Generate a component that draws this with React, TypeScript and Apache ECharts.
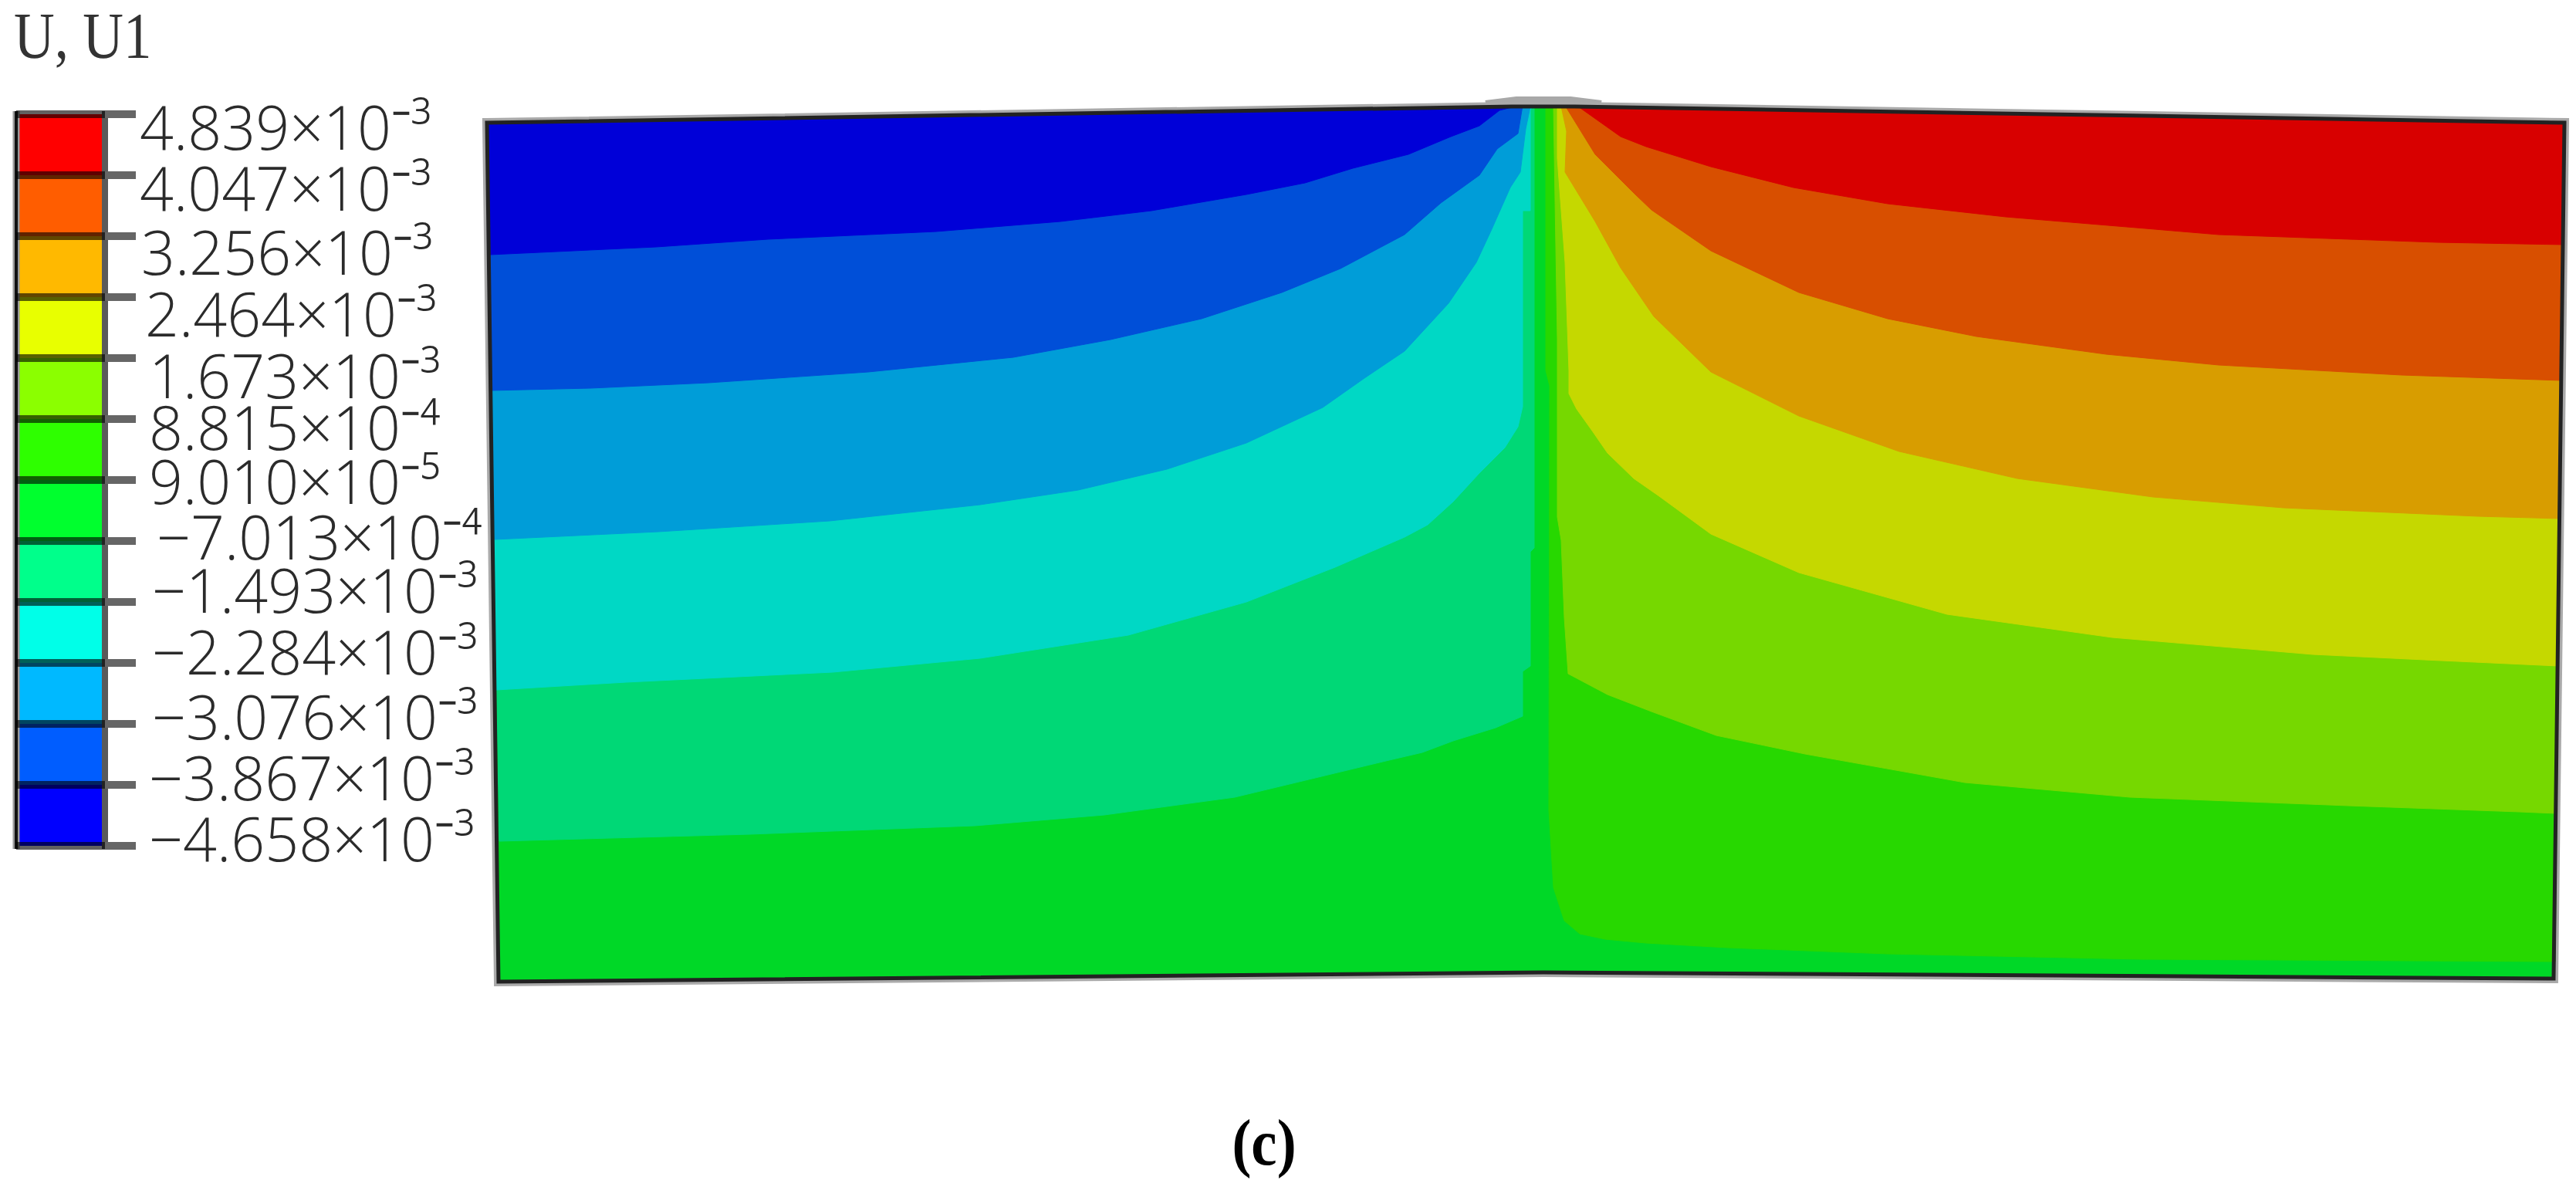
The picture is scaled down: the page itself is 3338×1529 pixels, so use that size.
import React, { useEffect, useRef } from "react";
import * as echarts from "echarts";

const legendLabels = ["4.839×10⁻³","4.047×10⁻³","3.256×10⁻³","2.464×10⁻³","1.673×10⁻³","8.815×10⁻⁴","9.010×10⁻⁵","−7.013×10⁻⁴","−1.493×10⁻³","−2.284×10⁻³","−3.076×10⁻³","−3.867×10⁻³","−4.658×10⁻³"];
const legendColors = ["#FF0000","#FF5D00","#FFB900","#E8FF00","#8BFF00","#2EFF00","#00FF2E","#00FF8B","#00FFE8","#00B9FF","#005DFF","#0000FF"];

// Contour lines, in picture-scale model coordinates [x, y]
const lineB1 = [[635,330],[850,320],[995,310],[1213,300],[1374,287],[1492,273],[1615,252],[1691,237],[1753,218],[1825,200],[1880,177],[1917,163],[1943,143],[1963,138]];
const lineB2 = [[635,506],[765,503],[918,496],[1125,482],[1313,463],[1439,440],[1557,413],[1661,379],[1737,348],[1820,304],[1867,263],[1917,227],[1940,193],[1967,173],[1973,137]];
const lineB3 = [[641,699],[853,689],[1075,675],[1270,654],[1397,635],[1512,608],[1615,574],[1714,528],[1768,490],[1820,455],[1877,393],[1913,340],[1933,297],[1957,243],[1970,223],[1977,167],[1983,138]];
const lineB4 = [[643,894],[811,884],[1079,871],[1270,853],[1462,823],[1615,780],[1730,735],[1820,696],[1850,680],[1883,650],[1917,613],[1950,580],[1967,553],[1973,527],[1973,273],[1983,273],[1983,143],[1985,138]];
const lineB5 = [[647,1090],[972,1081],[1263,1070],[1431,1056],[1600,1033],[1800,985],[1843,975],[1883,960],[1938,943],[1973,928],[1973,870],[1983,863],[1983,715],[1988,710],[1988,138]];
const lineR6 = [[2003,138],[2003,480],[2008,500],[2007,1050],[2013,1150],[2027,1193],[2047,1210],[2080,1217],[2133,1222],[2239,1228],[2446,1236],[2775,1243],[3311,1246]];
const lineR5 = [[2013,138],[2018,440],[2018,670],[2023,700],[2027,800],[2032,873],[2083,900],[2140,922],[2224,953],[2339,977],[2546,1014],[2760,1033],[3043,1044],[3265,1052],[3312,1054]];
const lineR4 = [[2018,138],[2018,205],[2028,340],[2033,480],[2033,510],[2043,530],[2063,558],[2083,587],[2117,620],[2150,643],[2217,692],[2331,742],[2523,796],[2737,826],[2997,848],[3142,855],[3315,863]];
const lineR3 = [[2023,138],[2030,170],[2028,223],[2067,287],[2100,347],[2143,410],[2217,482],[2331,539],[2461,585],[2614,620],[2790,644],[2959,658],[3211,669],[3318,672]];
const lineR2 = [[2030,140],[2067,200],[2117,250],[2140,272],[2217,325],[2331,379],[2446,413],[2561,436],[2729,459],[2875,473],[3112,486],[3320,493]];
const lineR1 = [[2045,138],[2100,177],[2133,190],[2217,216],[2324,243],[2446,264],[2599,281],[2768,295],[2875,304],[3158,314],[3322,317]];

const outline = [[631,159],[1960,138],[2040,138],[3323,159],[3309,1268],[2000,1260],[646,1272]];
const peak = [[1925,134],[1965,129],[2035,129],[2075,134]];

const topLeft = [631,159];
const topRight = [3323,159];
const topMidL = [1960,138];
const topMidR = [2040,138];

const leftBands = [
  { color: "#00D876", line: lineB5 },
  { color: "#00D8C5", line: lineB4 },
  { color: "#009DD8", line: lineB3 },
  { color: "#004FD8", line: lineB2 },
  { color: "#0000D8", line: lineB1 },
];
const rightBands = [
  { color: "#27D800", line: lineR6 },
  { color: "#76D800", line: lineR5 },
  { color: "#C5D800", line: lineR4 },
  { color: "#D89D00", line: lineR3 },
  { color: "#D84F00", line: lineR2 },
  { color: "#D80000", line: lineR1 },
];

const regions: { color: string; pts: number[][] }[] = [
  { color: "#00D827", pts: outline },
  ...leftBands.map((b) => ({ color: b.color, pts: [topLeft, ...b.line, topMidL] })),
  ...rightBands.map((b) => ({ color: b.color, pts: [topMidR, ...b.line, topRight] })),
];

// layout of the legend, in the same coordinates
const BAR_L = 21, BAR_R = 136, BAR_T = 148, STEP = 79, TICK_R = 176;
const LABEL_X = [181,181,183,188,193,193,193,203,197,197,197,193,193];
const LABEL_Y = [163,242,325,405,485,552,622,694,763,843,927,1006,1085];

const FONT = "'Open Sans'";

export default function App() {
  const ref = useRef<HTMLDivElement>(null);
  useEffect(() => {
    document.body.style.margin = "0";
    const chart = echarts.init(ref.current!, undefined, { renderer: "svg" });
    const toPts = (api: any, pts: number[][]) => pts.map((p) => api.coord(p));
    chart.setOption({
      animation: false,
      backgroundColor: "#ffffff",
      grid: { left: 0, right: 0, top: 0, bottom: 0 },
      xAxis: { type: "value", min: 0, max: 3338, show: false },
      yAxis: { type: "value", min: 0, max: 1529, inverse: true, show: false },
      series: [
        {
          type: "custom",
          silent: true,
          coordinateSystem: "cartesian2d",
          data: [[0]],
          renderItem: (_: any, api: any) => ({
            type: "group",
            children: [
              { type: "polyline", shape: { points: toPts(api, peak) }, style: { fill: "none", stroke: "#a8a8a8", lineWidth: 8 } },
              { type: "polygon", shape: { points: toPts(api, outline) }, style: { fill: "#aaa", stroke: "#aaa", lineWidth: 12 } },
            ],
          }),
        },
        {
          type: "custom",
          silent: true,
          coordinateSystem: "cartesian2d",
          data: regions.map((_, i) => [i]),
          renderItem: (params: any, api: any) => {
            const r = regions[params.dataIndex];
            return {
              type: "polygon",
              shape: { points: toPts(api, r.pts) },
              style: { fill: r.color, stroke: r.color, lineWidth: 1 },
            };
          },
        },
        {
          type: "custom",
          silent: true,
          coordinateSystem: "cartesian2d",
          data: [[0]],
          renderItem: (_: any, api: any) => ({
            type: "polygon",
            shape: { points: toPts(api, outline) },
            style: { fill: "none", stroke: "#222", lineWidth: 5 },
          }),
        },
        {
          type: "custom",
          silent: true,
          coordinateSystem: "cartesian2d",
          data: legendColors.map((_, i) => [i]),
          renderItem: (params: any, api: any) => {
            const i = params.dataIndex;
            const a = api.coord([BAR_L, BAR_T + i * STEP]);
            const b = api.coord([BAR_R, BAR_T + (i + 1) * STEP]);
            return {
              type: "rect",
              shape: { x: a[0], y: a[1], width: b[0] - a[0], height: b[1] - a[1] },
              style: { fill: legendColors[i] },
            };
          },
        },
        {
          type: "custom",
          silent: true,
          coordinateSystem: "cartesian2d",
          data: [[0]],
          renderItem: (_: any, api: any) => {
            const children: any[] = [];
            const yTop = BAR_T;
            const yBot = BAR_T + 12 * STEP;
            const l = api.coord([BAR_L, yTop]);
            const r = api.coord([BAR_R, yBot]);
            children.push({ type: "line", shape: { x1: l[0], y1: yTop - 4, x2: l[0], y2: yBot + 4 }, style: { stroke: "#9a9a9a", lineWidth: 9 } });
            children.push({ type: "line", shape: { x1: l[0], y1: yTop - 4, x2: l[0], y2: yBot + 4 }, style: { stroke: "#111", lineWidth: 4 } });
            children.push({ type: "line", shape: { x1: r[0], y1: yTop - 4, x2: r[0], y2: yBot + 4 }, style: { stroke: "#5a5a5a", lineWidth: 8 } });
            legendLabels.forEach((_, i) => {
              const y = BAR_T + i * STEP;
              const p0 = api.coord([BAR_L, y]);
              const p1 = api.coord([BAR_R, y]);
              const p2 = api.coord([TICK_R, y]);
              children.push({ type: "line", shape: { x1: p1[0], y1: p1[1], x2: p2[0], y2: p2[1] }, style: { stroke: "#666", lineWidth: 10 } });
              children.push({ type: "line", shape: { x1: p0[0], y1: p0[1], x2: p1[0], y2: p1[1] }, style: { stroke: "rgba(0,0,0,0.62)", lineWidth: 10 } });
            });
            return { type: "group", children };
          },
        },
        {
          type: "custom",
          silent: true,
          coordinateSystem: "cartesian2d",
          data: legendLabels.map((_, i) => [i]),
          renderItem: (params: any, api: any) => {
            const i = params.dataIndex;
            const p = api.coord([LABEL_X[i], LABEL_Y[i]]);
            return {
              type: "text",
              x: p[0],
              y: p[1],
              scaleY: 1.03,
              style: {
                text: legendLabels[i],
                fontFamily: FONT,
                fontWeight: 300,
                fontSize: 77,
                fill: "#2b2b2b",
                textAlign: "left",
                textVerticalAlign: "middle",
              },
            };
          },
        },
        {
          type: "custom",
          silent: true,
          coordinateSystem: "cartesian2d",
          data: [[0]],
          renderItem: (_: any, api: any) => {
            const a = api.coord([18, 47]);
            const c = api.coord([1638, 1481]);
            return {
              type: "group",
              children: [
                {
                  type: "text",
                  x: a[0],
                  y: a[1],
                  scaleY: 1.15,
                  style: { text: "U, U1", fontFamily: "'Liberation Serif'", fontSize: 73, fill: "#333", textAlign: "left", textVerticalAlign: "middle" },
                },
                {
                  type: "text",
                  x: c[0],
                  y: c[1],
                  scaleY: 1.12,
                  style: { text: "(c)", fontFamily: "'Liberation Serif'", fontWeight: "bold", fontSize: 75, fill: "#000", textAlign: "center", textVerticalAlign: "middle" },
                },
              ],
            };
          },
        },
      ],
    });
    return () => chart.dispose();
  }, []);
  return <div ref={ref} style={{ position: "absolute", left: 0, top: 0, width: 3338, height: 1529 }} />;
}
